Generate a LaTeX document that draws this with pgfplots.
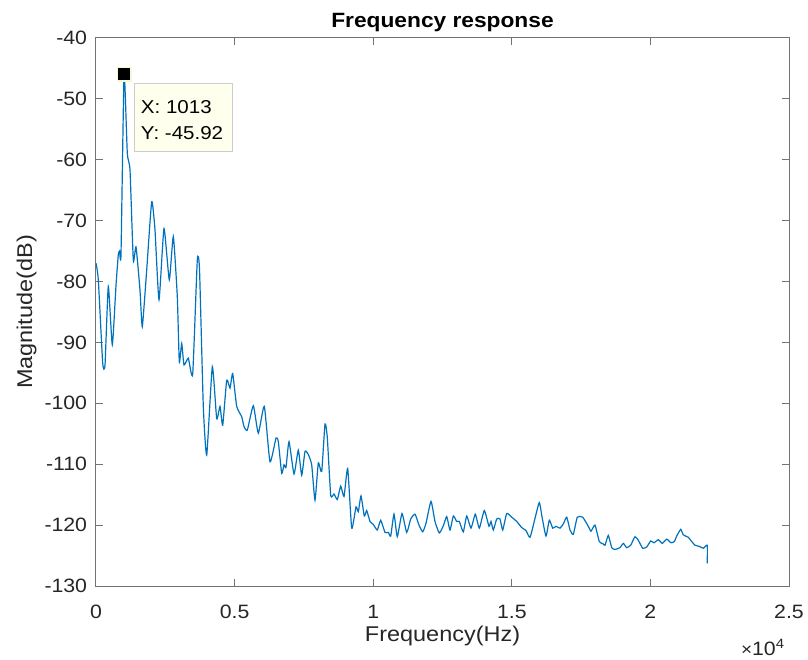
\documentclass[border=0pt]{standalone}
\usepackage{fontspec}
\setmainfont{Liberation Sans}[FakeStretch=1.1]
\usepackage{pgfplots}
\pgfplotsset{compat=1.18}
\definecolor{mblue}{rgb}{0,0.447,0.741}
\definecolor{tipbg}{rgb}{1,1,0.933}
\definecolor{tipedge}{gray}{0.8}
\definecolor{axgray}{gray}{0.45}
\definecolor{txt}{gray}{0.15}
\begin{document}
\begin{tikzpicture}
\begin{axis}[
  scale only axis, width=519.75pt, height=411pt,
  xmin=0, xmax=25000, ymin=-130, ymax=-40,
  xtick={0,5000,10000,15000,20000,25000},
  xticklabels={0,0.5,1,1.5,2,2.5},
  ytick={-130,-120,-110,-100,-90,-80,-70,-60,-50,-40},
  yticklabels={-130,-120,-110,-100,-90,-80,-70,-60,-50,-40},
  scaled x ticks=false,
  /pgf/number format/assume math mode=true,
  tick align=inside, major tick length=5pt,
  axis line style={draw=axgray, line width=0.75pt},
  every tick/.style={draw=axgray, line width=0.75pt},
  tick label style={font=\fontsize{14.5}{17}\selectfont, text=txt, inner sep=0pt},
  xticklabel style={anchor=base, yshift=-24pt},
  yticklabel style={anchor=east, xshift=-6.5pt},
  xlabel={Frequency(Hz)}, ylabel={Magnitude(dB)},
  label style={font=\fontsize{16}{19}\selectfont, text=txt, inner sep=0pt},
  xlabel style={at={(axis description cs:0.5,-0.1017)}, anchor=base},
  ylabel style={at={(axis description cs:-0.092,0.5)}, anchor=base},
  title={Frequency response},
  every axis title shift=0pt,
  title style={at={(axis description cs:0.5,1.0195)}, anchor=base, inner sep=0pt,
    font=\bfseries\fontsize{15.5}{18}\selectfont, text=black},
  clip mode=individual,
]
\addplot[mblue, line width=0.9pt, smooth, tension=0.3] coordinates {
(0,-77.0) (83,-79.7) (242,-93.4) (325,-93.7) (444,-80.8) (588,-90.4)
(722,-80.6) (804,-75.6) (848,-75.0) (902,-75.5) (1013,-45.92) (1129,-58.9)
(1227,-61.7) (1346,-76.5) (1443,-74.3) (1587,-81.4) (1670,-87.4) (1829,-78.1)
(2009,-66.9) (2128,-71.5) (2273,-83.0) (2453,-71.3) (2644,-79.7) (2789,-72.6)
(2933,-82.5) (3005,-93.2) (3092,-90.2) (3175,-93.7) (3330,-92.6) (3488,-95.2)
(3654,-76.5) (3734,-78.0) (3871,-100.5) (3994,-108.5) (4196,-94.0) (4354,-102.5)
(4473,-100.5) (4571,-103.6) (4715,-96.2) (4834,-97.5) (4931,-95.1) (5076,-100.5)
(5256,-102.2) (5339,-103.8) (5458,-104.4) (5675,-100.4) (5855,-104.9) (6071,-100.5)
(6277,-109.6) (6494,-105.7) (6577,-106.3) (6699,-111.5) (6782,-110.1) (6854,-110.5)
(6963,-106.3) (7143,-111.6) (7298,-107.7) (7421,-111.8) (7540,-107.9) (7659,-108.4)
(7781,-110.1) (7900,-115.9) (8019,-109.8) (8142,-111.2) (8261,-103.4) (8344,-105.6)
(8467,-115.1) (8586,-114.9) (8705,-115.8) (8828,-113.6) (8947,-115.3) (9080,-110.7)
(9225,-120.5) (9380,-117.0) (9463,-117.8) (9560,-115.2) (9679,-118.5) (9765,-117.6)
(9885,-119.4) (10004,-119.9) (10148,-120.8) (10271,-119.2) (10426,-121.2) (10545,-121.2)
(10631,-121.8) (10750,-118.2) (10869,-121.9) (11039,-118.1) (11209,-121.2) (11353,-119.0)
(11508,-118.2) (11652,-120.0) (11786,-121.1) (11905,-119.7) (12085,-116.1) (12229,-119.4)
(12385,-121.3) (12529,-120.1) (12652,-118.6) (12771,-120.8) (12890,-118.5) (13012,-119.4)
(13106,-119.4) (13250,-121.1) (13373,-118.5) (13528,-120.5) (13683,-118.2) (13828,-120.5)
(14008,-117.6) (14177,-120.2) (14250,-119.4) (14333,-120.8) (14455,-119.0) (14574,-119.0)
(14672,-120.8) (14816,-118.1) (14997,-118.7) (15177,-119.4) (15357,-120.4) (15512,-120.9)
(15657,-122.0) (15837,-118.9) (15992,-116.3) (16100,-118.9) (16234,-121.8) (16353,-119.2)
(16476,-120.5) (16595,-120.2) (16739,-120.5) (16858,-119.8) (16981,-118.7) (17100,-120.8)
(17219,-121.5) (17363,-118.7) (17558,-118.7) (17760,-120.2) (17857,-121.0) (18001,-120.0)
(18156,-122.7) (18301,-123.1) (18362,-123.3) (18481,-121.7) (18604,-123.7) (18723,-124.0)
(18903,-123.7) (19022,-123.0) (19145,-123.7) (19289,-123.3) (19444,-121.9) (19563,-122.5)
(19722,-123.8) (19866,-123.6) (20011,-122.6) (20130,-122.9) (20285,-122.4) (20429,-123.0)
(20588,-122.3) (20743,-122.9) (20862,-122.7) (20949,-121.8) (21093,-120.7) (21187,-121.6)
(21367,-122.0) (21490,-122.7) (21609,-123.3) (21765,-123.5) (21909,-123.8) (22050,-123.3)
(22050,-126.3)
};
% data tip
\draw[draw=tipedge, fill=tipbg, line width=0.75pt] (axis cs:1382,-47.55) rectangle (axis cs:4931,-58.67);
\node[anchor=base west, inner sep=0pt, font=\fontsize{14}{17}\selectfont] at (axis cs:1613,-52.37) {X: 1013};
\node[anchor=base west, inner sep=0pt, font=\fontsize{14}{17}\selectfont] at (axis cs:1613,-56.75) {Y: -45.92};
\addplot[only marks, mark=square*, mark size=5.2pt, mark options={fill=black, draw={rgb,1:red,0.97;green,0.97;blue,0.82}, line width=0.9pt}] coordinates {(1013,-45.92)};
\end{axis}
\node[anchor=base east, inner sep=0pt, font=\fontsize{14.5}{17}\selectfont, text=txt]
  at ([xshift=-3pt,yshift=-51.75pt]current axis.south east) {{\fontsize{13}{15}\selectfont ×}10\textsuperscript{4}};
\pgfresetboundingbox
\path ([xshift=-72pt,yshift=-54.75pt]current axis.south west) rectangle ([xshift=14.25pt,yshift=28.5pt]current axis.north east);
\end{tikzpicture}
\end{document}
